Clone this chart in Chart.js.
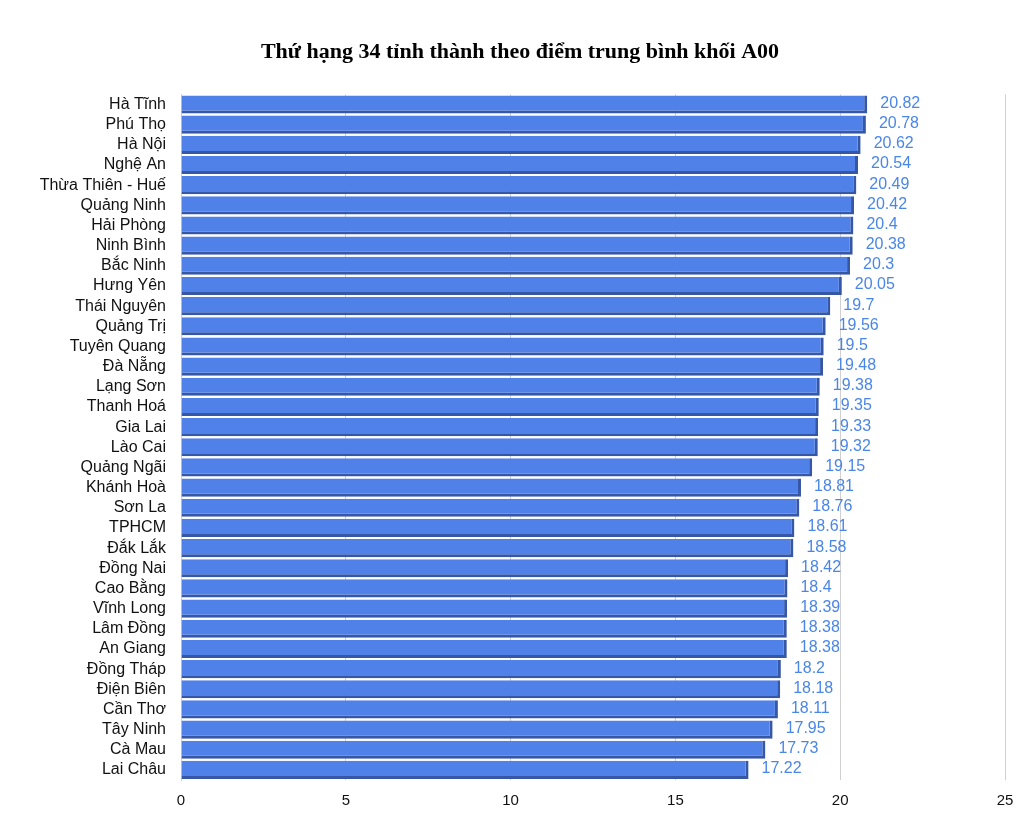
<!DOCTYPE html>
<html>
<head>
<meta charset="utf-8">
<script src="https://cdn.jsdelivr.net/npm/chart.js@4"></script>
<style>
  html, body { margin: 0; padding: 0; background: #fff; }
  #wrap { width: 1020px; height: 818px; }
</style>
</head>
<body>
<div id="wrap"><canvas id="myChart"></canvas></div>
<script>
// data
var provinces = ['Hà Tĩnh', 'Phú Thọ', 'Hà Nội', 'Nghệ An', 'Thừa Thiên - Huế', 'Quảng Ninh',
  'Hải Phòng', 'Ninh Bình', 'Bắc Ninh', 'Hưng Yên', 'Thái Nguyên', 'Quảng Trị', 'Tuyên Quang',
  'Đà Nẵng', 'Lạng Sơn', 'Thanh Hoá', 'Gia Lai', 'Lào Cai', 'Quảng Ngãi', 'Khánh Hoà', 'Sơn La',
  'TPHCM', 'Đắk Lắk', 'Đồng Nai', 'Cao Bằng', 'Vĩnh Long', 'Lâm Đồng', 'An Giang', 'Đồng Tháp',
  'Điện Biên', 'Cần Thơ', 'Tây Ninh', 'Cà Mau', 'Lai Châu'];
var scores = [20.82, 20.78, 20.62, 20.54, 20.49, 20.42, 20.4, 20.38, 20.3, 20.05, 19.7, 19.56, 19.5,
  19.48, 19.38, 19.35, 19.33, 19.32, 19.15, 18.81, 18.76, 18.61, 18.58, 18.42, 18.4, 18.39, 18.38,
  18.38, 18.2, 18.18, 18.11, 17.95, 17.73, 17.22];
var xTicks = [0, 5, 10, 15, 20, 25];

// value labels next to each bar
const valueLabels = {
  id: 'valueLabels',
  afterDatasetsDraw(chart) {
    const ctx = chart.ctx;
    const meta = chart.getDatasetMeta(0);
    ctx.save();
    ctx.font = '16px "Liberation Sans", Arial, sans-serif';
    ctx.fillStyle = '#4a86e8';
    ctx.textBaseline = 'middle';
    ctx.textAlign = 'left';
    meta.data.forEach((bar, i) => {
      ctx.fillText(String(scores[i]), bar.x + 13, bar.y - 1);
    });
    ctx.restore();
  }
};

const config = {
  type: 'bar',
  data: {
    labels: provinces,
    datasets: [{
      data: scores,
      backgroundColor: '#5081e8',
      borderColor: '#3657a6',
      borderWidth: { top: 0, right: 3, bottom: 3, left: 0 },
      borderSkipped: 'start',
      barPercentage: 0.9,
      categoryPercentage: 1.0
    }]
  },
  options: {
    indexAxis: 'y',
    animation: false,
    responsive: true,
    maintainAspectRatio: false,
    layout: { padding: { left: 20, right: 0, top: 0, bottom: 0 } },
    plugins: {
      legend: { display: false },
      tooltip: { enabled: false },
      title: {
        display: true,
        text: 'Thứ hạng 34 tỉnh thành theo điểm trung bình khối A00',
        color: '#000',
        font: { family: '"Liberation Serif", "Times New Roman", serif', size: 22, weight: 'bold' },
        padding: { top: 39, bottom: 29 }
      }
    },
    scales: {
      x: {
        min: 0,
        max: 25,
        afterBuildTicks: axis => { axis.ticks = xTicks.map(v => ({ value: v })); },
        afterFit: axis => { axis.paddingRight = 15; axis.height = 38; },
        grid: { color: '#d0d0d0', drawTicks: false },
        border: { display: false },
        ticks: {
          color: '#111',
          padding: 12,
          font: { family: '"Liberation Sans", Arial, sans-serif', size: 15 }
        }
      },
      y: {
        afterFit: axis => { axis.width = 161; },
        grid: { display: false, drawTicks: false },
        border: { display: true, color: '#cfcfcf' },
        ticks: {
          color: '#111',
          padding: 15,
          autoSkip: false,
          font: { family: '"Liberation Sans", Arial, sans-serif', size: 16 }
        }
      }
    }
  },
  plugins: [valueLabels]
};

document.addEventListener('DOMContentLoaded', () => {
  myChart = new Chart(document.getElementById('myChart'), config);
});
</script>
</body>
</html>
